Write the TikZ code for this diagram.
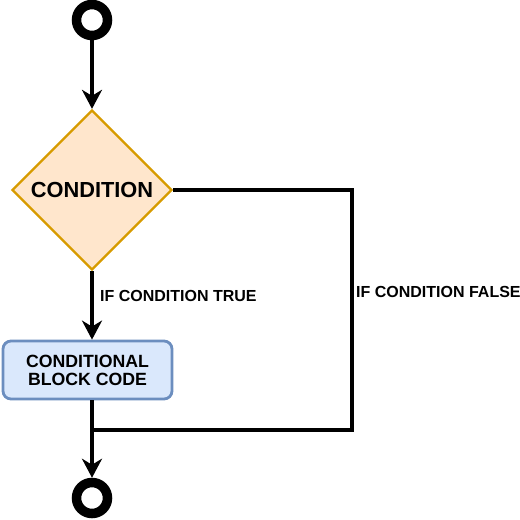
\documentclass[tikz,border=0pt]{standalone}
\usepackage{fontspec}
\setmainfont{Liberation Sans}
\usetikzlibrary{shapes.geometric,arrows.meta}
\definecolor{condfill}{HTML}{FFE6CC}
\definecolor{conddraw}{HTML}{D79B00}
\definecolor{blockfill}{HTML}{DAE8FC}
\definecolor{blockdraw}{HTML}{6C8EBF}
\begin{document}
\begin{tikzpicture}[x=1pt,y=-1pt,
  ring/.style={circle,draw=black,fill=white,line width=9.5pt,minimum size=31pt,inner sep=0pt},
  decision/.style={diamond,draw=conddraw,fill=condfill,line width=2.3pt,minimum size=160pt,inner sep=0pt,aspect=1,font=\fontsize{21.8}{25}\selectfont\bfseries},
  block/.style={rectangle,rounded corners=8pt,draw=blockdraw,fill=blockfill,line width=2.8pt,minimum width=169pt,minimum height=58pt,align=center,font=\fontsize{17.7}{22}\selectfont\bfseries},
  lbl/.style={anchor=west,inner sep=0pt,font=\fontsize{16}{19}\selectfont\bfseries},
  conn/.style={line width=4pt,draw=black},
  arr/.style={conn,-{Stealth[length=19pt,width=20pt,inset=6pt]}}]
\useasboundingbox (0,0) rectangle (520,520);
\node[ring] (start) at (92,20) {};
\node[decision] (cond) at (92,190) {CONDITION};
\node[block] (code) at (87.5,370) {CONDITIONAL\\[-4pt]BLOCK CODE};
\node[ring] (end) at (92,498) {};
\coordinate (c1) at (352,190);
\coordinate (c2) at (352,430);
\coordinate (m) at (92,430);
\draw[arr] (start.south) -- (cond.north);
\draw[arr] (cond.south) -- (cond.south |- code.north);
\draw[conn] (cond.east) -- (c1) -- (c2) -- (m);
\draw[conn] (cond.south |- code.south) -- (m);
\draw[arr] (m) -- (end.north);
\node[lbl] (ltrue) at (100,296) {IF CONDITION TRUE};
\node[lbl] (lfalse) at (356,292) {IF CONDITION FALSE};
\end{tikzpicture}
\end{document}
